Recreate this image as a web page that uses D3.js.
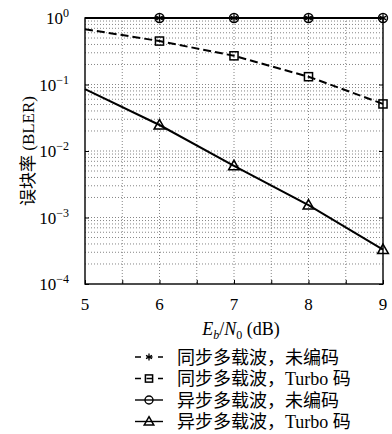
<!DOCTYPE html>
<html>
<head>
<meta charset="utf-8">
<script src="https://cdn.jsdelivr.net/npm/d3@7"></script>
<style>
body { margin: 0; background: #fff; }
text { font-family: "Liberation Serif", "Noto Sans CJK SC", serif; fill: #000; }
</style>
</head>
<body>
<svg width="392" height="434"></svg>
<script>
var snr = [5, 6, 7, 8, 9];
var markerSnr = [6, 7, 8, 9];
var syncUncoded = [1, 1, 1, 1, 1];
var syncTurbo = [0.68, 0.45, 0.27, 0.131, 0.051];
var asyncUncoded = [1, 1, 1, 1, 1];
var asyncTurbo = [0.085, 0.0246, 0.0060, 0.00154, 0.00033];
var seriesNames = ["同步多载波，未编码", "同步多载波，Turbo 码", "异步多载波，未编码", "异步多载波，Turbo 码"];
var yTicks = [1e-4, 1e-3, 1e-2, 1e-1, 1];
var yTickExp = ["−4", "−3", "−2", "−1", "0"];

var svg = d3.select("svg"),
    pLeft = 85, pRight = 383, pTop = 18, pBottom = 284;

var x = d3.scaleLinear().domain([5, 9]).range([pLeft, pRight]);
var y = d3.scaleLog().domain([1e-4, 1]).range([pBottom, pTop]);

var series = [
  {name: seriesNames[0], values: syncUncoded, dash: "8,4", marker: "star"},
  {name: seriesNames[1], values: syncTurbo, dash: "8,4", marker: "square"},
  {name: seriesNames[2], values: asyncUncoded, dash: null, marker: "circle"},
  {name: seriesNames[3], values: asyncTurbo, dash: null, marker: "triangle"}
];

// grid
var xGrid = d3.range(5.5, 9, 0.5);
svg.append("g").selectAll("line").data(xGrid).enter().append("line")
  .attr("x1", function(d) { return x(d); }).attr("x2", function(d) { return x(d); })
  .attr("y1", pTop).attr("y2", pBottom)
  .attr("stroke", "#666").attr("stroke-width", 0.8).attr("stroke-dasharray", "1,2");

var yGrid = [];
for (var e = -4; e < 0; e++) for (var m = 1; m < 10; m++) if (!(e == -4 && m == 1)) yGrid.push(m * Math.pow(10, e));
svg.append("g").selectAll("line").data(yGrid).enter().append("line")
  .attr("x1", pLeft).attr("x2", pRight)
  .attr("y1", function(d) { return y(d); }).attr("y2", function(d) { return y(d); })
  .attr("stroke", "#666").attr("stroke-width", 0.8).attr("stroke-dasharray", "1,2");

// axes (ticks inside)
svg.append("g").attr("transform", "translate(0," + pBottom + ")")
  .call(d3.axisTop(x).tickValues(d3.range(5, 9.01, 0.5)).tickSize(4).tickFormat(""))
  .call(function(g) { g.select(".domain").remove(); });
svg.append("g").attr("transform", "translate(" + pLeft + ",0)")
  .call(d3.axisRight(y).tickValues(yTicks).tickSize(4).tickFormat(""))
  .call(function(g) { g.select(".domain").remove(); });
svg.append("g").attr("transform", "translate(" + pRight + ",0)")
  .call(d3.axisLeft(y).tickValues(yTicks).tickSize(4).tickFormat(""))
  .call(function(g) { g.select(".domain").remove(); });

svg.append("rect").attr("x", pLeft).attr("y", pTop)
  .attr("width", pRight - pLeft).attr("height", pBottom - pTop)
  .attr("fill", "none").attr("stroke", "#000").attr("stroke-width", 1.4);

// tick labels
svg.append("g").selectAll("text").data(snr).enter().append("text")
  .attr("x", function(d) { return x(d); }).attr("y", pBottom + 26)
  .attr("text-anchor", "middle").attr("font-size", 17).text(function(d) { return d; });

var yl = svg.append("g").selectAll("text").data(yTicks).enter().append("text")
  .attr("x", pLeft - 16).attr("y", function(d) { return y(d) + 6; })
  .attr("text-anchor", "end").attr("font-size", 17);
yl.append("tspan").text("10");
yl.append("tspan").attr("dy", -7).attr("font-size", 12).text(function(d, i) { return yTickExp[i]; });

// axis titles
var xt = svg.append("text").attr("x", 241).attr("y", 335).attr("text-anchor", "middle").attr("font-size", 18);
xt.append("tspan").attr("font-style", "italic").text("E");
xt.append("tspan").attr("font-style", "italic").attr("font-size", 12).attr("dy", 4).text("b");
xt.append("tspan").attr("dy", -4).text("/");
xt.append("tspan").attr("font-style", "italic").text("N");
xt.append("tspan").attr("font-size", 12).attr("dy", 4).text("0");
xt.append("tspan").attr("dy", -4).text(" (dB)");

svg.append("text").attr("transform", "translate(34," + ((pTop + pBottom) / 2) + ") rotate(-90)")
  .attr("text-anchor", "middle").attr("font-size", 17).text("误块率 (BLER)");

// lines and markers
var line = d3.line().x(function(d) { return x(d[0]); }).y(function(d) { return y(d[1]); });

function drawMarker(g, type, cx, cy, sz) {
  var r = sz || 4.5;
  if (type == "circle") {
    g.append("circle").attr("cx", cx).attr("cy", cy).attr("r", r)
      .attr("fill", "none").attr("stroke", "#000").attr("stroke-width", 1.4);
  } else if (type == "square") {
    g.append("rect").attr("x", cx - r * 0.9).attr("y", cy - r * 0.9).attr("width", r * 1.8).attr("height", r * 1.8)
      .attr("fill", "none").attr("stroke", "#000").attr("stroke-width", 1.5);
  } else if (type == "triangle") {
    g.append("path").attr("d", "M" + cx + "," + (cy - r * 1.2) + "L" + (cx + r * 1.2) + "," + (cy + r * 0.9) + "L" + (cx - r * 1.2) + "," + (cy + r * 0.9) + "Z")
      .attr("fill", "none").attr("stroke", "#000").attr("stroke-width", 1.5);
  } else if (type == "star") {
    g.append("path").attr("d", d3.symbol().type(d3.symbolAsterisk).size(r * r * 2)())
      .attr("transform", "translate(" + cx + "," + cy + ")")
      .attr("stroke", "#000").attr("stroke-width", 1.3).attr("fill", "none");
  }
}

series.forEach(function(s) {
  var pts = snr.map(function(v, i) { return [v, s.values[i]]; });
  svg.append("path").datum(pts).attr("d", line)
    .attr("fill", "none").attr("stroke", "#000").attr("stroke-width", 2)
    .attr("stroke-dasharray", s.dash);
  var g = svg.append("g");
  pts.filter(function(p) { return markerSnr.indexOf(p[0]) >= 0; })
    .forEach(function(p) { drawMarker(g, s.marker, x(p[0]), y(p[1])); });
});

// legend
var legend = svg.append("g");
series.forEach(function(s, i) {
  var ly = 357 + i * 21.5;
  legend.append("line").attr("x1", 135).attr("x2", 163).attr("y1", ly).attr("y2", ly)
    .attr("stroke", "#000").attr("stroke-width", 1.4).attr("stroke-dasharray", s.dash ? "6,5.5" : null);
  drawMarker(legend, s.marker, 149, ly, 4);
  legend.append("text").attr("x", 177).attr("y", ly + 6.5).attr("font-size", 18).text(s.name);
});
</script>
</body>
</html>
